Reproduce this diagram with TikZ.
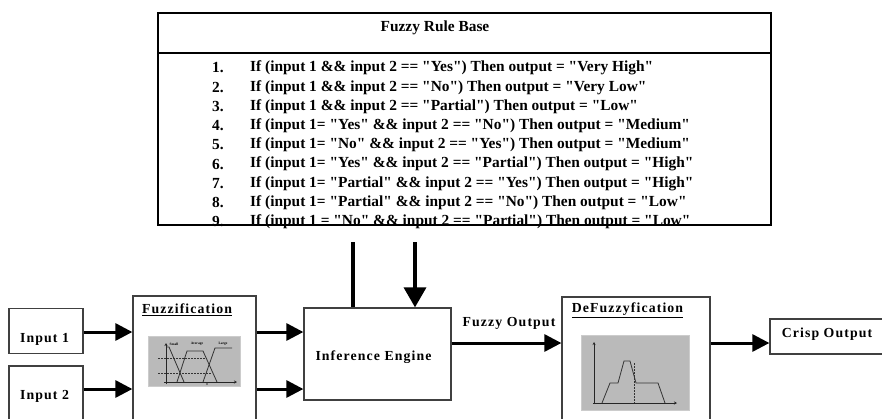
\documentclass[tikz,border=0pt]{standalone}
\usepackage{fontspec}
\setmainfont{Liberation Serif}
\usetikzlibrary{arrows.meta}
\newcommand{\dq}{\textquotedbl}
\begin{document}
\begin{tikzpicture}[x=1pt,y=-1pt,
  box/.style={draw=black!75, line width=1.3pt, inner sep=0pt},
  conn/.style={line width=3pt, -{Triangle[length=17pt,width=17pt]}},
  bigconn/.style={line width=3.5pt, -{Triangle[length=20pt,width=22pt]}},
  plain/.style={line width=3.5pt},
  rulefont/.style={font=\bfseries\fontsize{15.4}{18}\selectfont, inner sep=0pt},
  lbl/.style={font=\bfseries\fontsize{13.8}{16}\selectfont\addfontfeature{LetterSpace=8}, inner sep=0pt},
  tiny/.style={font=\bfseries\fontsize{3.5}{4}\selectfont, inner sep=0pt},
  graybox/.style={fill=black!27, draw=black!20, line width=0.5pt},
  curve/.style={line width=0.8pt, draw=black!80},
  dashline/.style={line width=0.7pt, draw=black!80, dash pattern=on 1.5pt off 1.5pt},
  axis/.style={line width=0.8pt, draw=black!85, -{Stealth[length=3pt,width=3pt]}},
]
\useasboundingbox (0,0) rectangle (882,418);
\clip (0,0) rectangle (882,418);
\fill[white] (0,0) rectangle (882,418);

% Rule base
\node[draw=black, line width=1.7pt, minimum width=613pt, minimum height=212pt, inner sep=0pt] (rb) at (464.5,119) {};
\coordinate (hl) at (158,53);
\draw[line width=1.2pt] (rb.west |- hl) -- (rb.east |- hl);
\node[rulefont] (rbt) at (435,28) {Fuzzy Rule Base};
\foreach \n/\t [count=\i from 0] in {
 1/{If (input 1 \&\& input 2 == \dq Yes\dq) Then output = \dq Very High\dq},
 2/{If (input 1 \&\& input 2 == \dq No\dq) Then output = \dq Very Low\dq},
 3/{If (input 1 \&\& input 2 == \dq Partial\dq) Then output = \dq Low\dq},
 4/{If (input 1= \dq Yes\dq\ \&\& input 2 == \dq No\dq) Then output = \dq Medium\dq},
 5/{If (input 1= \dq No\dq\ \&\& input 2 == \dq Yes\dq) Then output = \dq Medium\dq},
 6/{If (input 1= \dq Yes\dq\ \&\& input 2 == \dq Partial\dq) Then output = \dq High\dq},
 7/{If (input 1= \dq Partial\dq\ \&\& input 2 == \dq Yes\dq) Then output = \dq High\dq},
 8/{If (input 1= \dq Partial\dq\ \&\& input 2 == \dq No\dq) Then output = \dq Low\dq},
 9/{If (input 1 = \dq No\dq\ \&\& input 2 == \dq Partial\dq) Then output = \dq Low\dq}}{
  \node[rulefont, anchor=west] (n\n) at (212,68+19.25*\i) {\n.};
  \node[rulefont, anchor=west] (r\n) at (250,68+19.25*\i) {\t};
}

% Inputs
\node[box, minimum width=74pt, minimum height=45pt] (in1) at (46,331) {};
\node[lbl] (in1t) at (44.5,339) {Input 1};
\node[box, minimum width=74pt, minimum height=70pt] (in2) at (46,401) {};
\node[lbl] (in2t) at (44.5,396) {Input 2};

% Fuzzification
\node[box, minimum width=123pt, minimum height=150pt] (fuz) at (194.5,371) {};
\node[lbl] (fuzt) at (187,310) {\underline{Fuzzification}};
\node[graybox, minimum width=92pt, minimum height=50pt, inner sep=0pt] (fg) at (194,361) {};
\begin{scope}
\draw[axis] (166,384) -- (166,343);
\draw[axis] (164,382) -- (237,382);
\draw[curve] (166,347) -- (169,347) -- (184,382);
\draw[curve] (177,382) -- (187,351) -- (203,351) -- (217,382);
\draw[curve] (203,382) -- (215,348) -- (232,348);
\draw[dashline] (158,358) -- (207,358);
\draw[dashline] (158,373) -- (211,373);
\fill[black!80] (207,384) circle (0.8pt);
\node[tiny] (ls) at (174,344) {Small};
\node[tiny] (la) at (197,344) {Average};
\node[tiny] (ll) at (223,344) {Large};
\end{scope}

% Inference engine
\node[box, minimum width=147pt, minimum height=92pt] (inf) at (377.5,354) {};
\node[lbl] (inft) at (373.5,357) {Inference Engine};

% DeFuzzyfication
\node[box, minimum width=148pt, minimum height=150pt] (dfz) at (636,372) {};
\node[lbl] (dfzt) at (627.5,310) {\underline{DeFuzzyfication}};
\node[graybox, minimum width=108pt, minimum height=75pt, inner sep=0pt] (dg) at (635,373) {};
\begin{scope}
\draw[axis] (594,404) -- (594,342);
\draw[axis] (593,403) -- (677,403);
\draw[curve] (602,403) -- (610,383) -- (618,383) -- (624,361) -- (630,361) -- (636,383) -- (658,383) -- (665,403);
\draw[dashline] (634,363) -- (634,403);
\end{scope}

% Crisp output
\node[box, minimum width=125pt, minimum height=35pt] (crp) at (832.5,336.5) {};
\node[lbl] (crpt) at (827,334) {Crisp Output};

% Connectors
\coordinate (y1) at (0,332);
\coordinate (y2) at (0,389);
\coordinate (y3) at (0,343);
\draw[conn] (in1.east |- y1) -- (fuz.west |- y1);
\draw[conn] (in2.east |- y2) -- (fuz.west |- y2);
\draw[conn] (fuz.east |- y1) -- (inf.west |- y1);
\draw[conn] (fuz.east |- y2) -- (inf.west |- y2);
\draw[conn] (inf.east |- y3) -- (dfz.west |- y3);
\node[lbl] (fot) at (509,323) {Fuzzy Output};
\draw[conn] (dfz.east |- y3) -- (crp.west |- y3);
\coordinate (c1) at (353,242);
\coordinate (c2) at (415,242);
\draw[plain] (c1) -- (c1 |- inf.north);
\draw[bigconn] (c2) -- (c2 |- inf.north);
\end{tikzpicture}
\end{document}
